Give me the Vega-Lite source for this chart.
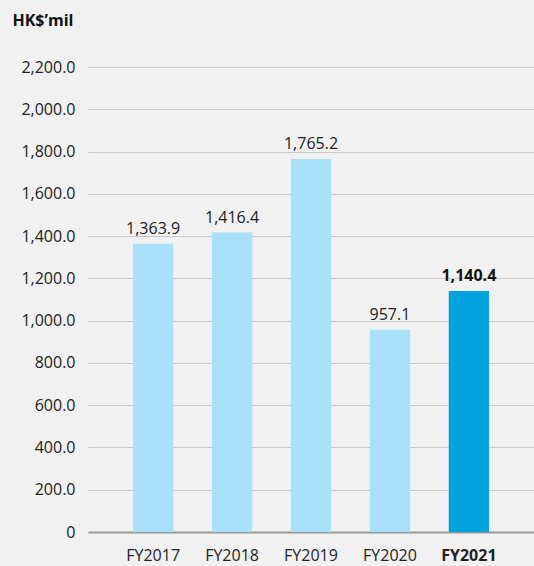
{
  "$schema": "https://vega.github.io/schema/vega-lite/v6.json",
  "autosize": {"type": "none"},
  "width": 446,
  "height": 465,
  "padding": {"left": 88, "top": 67, "right": 0, "bottom": 34},
  "background": "#f1f1f1",
  "config": {
    "view": {"stroke": null},
    "font": "Open Sans"
  },
  "data": {
    "values": [
      {"year": "FY2017", "value": 1363.9, "label": "1,363.9", "current": false},
      {"year": "FY2018", "value": 1416.4, "label": "1,416.4", "current": false},
      {"year": "FY2019", "value": 1765.2, "label": "1,765.2", "current": false},
      {"year": "FY2020", "value": 957.1, "label": "957.1", "current": false},
      {"year": "FY2021", "value": 1140.4, "label": "1,140.4", "current": true}
    ]
  },
  "encoding": {
    "x": {
      "field": "year",
      "type": "nominal",
      "sort": null,
      "scale": {"paddingInner": 0.49, "paddingOuter": 0.57, "align": 0.5},
      "axis": {
        "title": null,
        "labelAngle": 0,
        "labelFontSize": 16,
        "labelColor": "#222222",
        "labelPadding": 15,
        "ticks": false,
        "domainColor": "#999999",
        "domainWidth": 2,
        "labelFontWeight": {"expr": "datum.value == 'FY2021' ? 'bold' : 'normal'"}
      }
    },
    "y": {
      "field": "value",
      "type": "quantitative",
      "scale": {"domain": [0, 2200], "nice": false},
      "axis": {
        "values": [0, 200, 400, 600, 800, 1000, 1200, 1400, 1600, 1800, 2000, 2200],
        "labelExpr": "datum.value == 0 ? '0' : format(datum.value, ',.1f')",
        "labelFontSize": 16,
        "labelColor": "#222222",
        "labelPadding": 13,
        "ticks": false,
        "domain": false,
        "gridColor": "#c8c8c8",
        "gridWidth": 1,
        "title": "HK$’mil",
        "titleAngle": 0,
        "titleAlign": "left",
        "titleBaseline": "alphabetic",
        "titleX": -76,
        "titleY": -42,
        "titleFontSize": 16,
        "titleFontWeight": "bold",
        "titleColor": "#111111"
      }
    }
  },
  "layer": [
    {
      "mark": {"type": "bar"},
      "encoding": {
        "color": {
          "field": "current",
          "type": "nominal",
          "scale": {"domain": [false, true], "range": ["#a9e0fa", "#00a3e0"]},
          "legend": null
        }
      }
    },
    {
      "transform": [{"filter": "!datum.current"}],
      "mark": {"type": "text", "baseline": "alphabetic", "dy": -10, "fontSize": 16, "color": "#222222"},
      "encoding": {
        "text": {"field": "label"}
      }
    },
    {
      "transform": [{"filter": "datum.current"}],
      "mark": {"type": "text", "baseline": "alphabetic", "dy": -10, "fontSize": 16, "fontWeight": "bold", "color": "#111111"},
      "encoding": {
        "text": {"field": "label"}
      }
    }
  ]
}
